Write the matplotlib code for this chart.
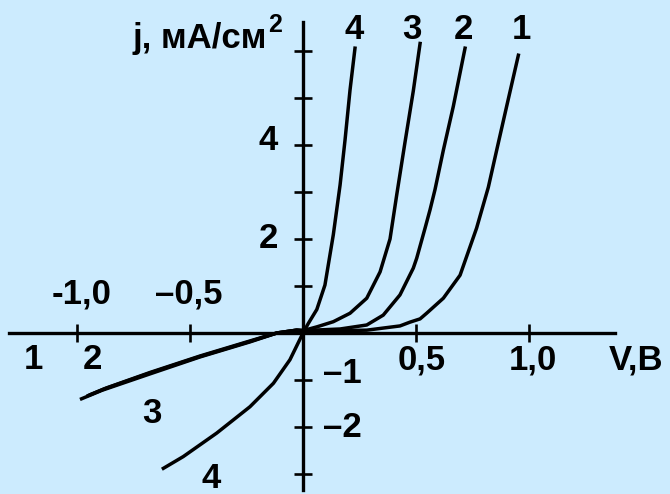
import matplotlib
matplotlib.use("Agg")
import matplotlib.pyplot as plt

plt.rcParams['font.family'] = ['Liberation Sans', 'DejaVu Sans']

# reverse branches of curves 1-3 (V, j) - they nearly coincide
v_rev_1 = [-0.98, -0.89, -0.677, -0.456, -0.235, -0.116, -0.028, 0.0]
j_rev_1 = [-1.40, -1.22, -0.87, -0.51, -0.19, 0.0, 0.06, 0.05]
v_rev_2 = [-0.95, -0.88, -0.677, -0.456, -0.235, -0.116, -0.028, 0.0]
j_rev_2 = [-1.33, -1.19, -0.85, -0.50, -0.18, 0.0, 0.06, 0.05]
v_rev_3 = [-0.94, -0.87, -0.677, -0.456, -0.235, -0.116, -0.028, 0.0]
j_rev_3 = [-1.31, -1.17, -0.84, -0.49, -0.17, 0.0, 0.06, 0.05]

# forward branches
v_fwd_1 = [0.0, 0.15, 0.282, 0.429, 0.473, 0.518, 0.547, 0.621, 0.695, 0.768, 0.82, 0.857, 0.901, 0.953]
j_fwd_1 = [0.05, 0.05, 0.06, 0.15, 0.23, 0.30, 0.42, 0.74, 1.23, 2.23, 3.10, 3.89, 4.82, 5.91]
v_fwd_2 = [0.0, 0.164, 0.282, 0.355, 0.429, 0.488, 0.503, 0.540, 0.562, 0.584, 0.621, 0.665, 0.717]
j_fwd_2 = [0.05, 0.085, 0.17, 0.38, 0.81, 1.38, 1.59, 2.23, 2.62, 3.05, 3.89, 4.82, 6.06]
v_fwd_3 = [0.0, 0.061, 0.134, 0.208, 0.282, 0.341, 0.385, 0.415, 0.451, 0.488, 0.518]
j_fwd_3 = [0.05, 0.13, 0.24, 0.42, 0.74, 1.30, 2.00, 2.95, 4.05, 5.15, 6.16]

# curve 4 over the whole range
v_4 = [-0.618, -0.53, -0.382, -0.235, -0.131, -0.058, 0.0, 0.023, 0.061, 0.097,
       0.134, 0.164, 0.186, 0.208, 0.230]
j_4 = [-2.88, -2.63, -2.13, -1.57, -1.07, -0.57, 0.0, 0.20, 0.50, 1.02,
       2.09, 3.15, 4.11, 5.17, 6.06]

x_ticks = [-1.0, -0.5, 0.5, 1.0]
y_ticks = [-3, -2, -1, 1, 2, 3, 4, 5, 6]

bg = '#ccebfe'
fig = plt.figure(figsize=(6.7, 4.94), dpi=100, facecolor=bg)
ax = fig.add_axes([0, 0, 1, 1], facecolor=bg)
ax.set_xlim(-1.341, 1.624)
ax.set_ylim(-3.426, 7.085)

lw = 2.5
for v, j in [(v_rev_1, j_rev_1), (v_rev_2, j_rev_2), (v_rev_3, j_rev_3),
             (v_fwd_1, j_fwd_1), (v_fwd_2, j_fwd_2), (v_fwd_3, j_fwd_3),
             (v_4, j_4)]:
    ax.plot(v, j, color='black', lw=lw, solid_joinstyle='round')

# axes crossing at the origin
for side in ['top', 'right']:
    ax.spines[side].set_visible(False)
ax.spines['bottom'].set_position(('data', 0))
ax.spines['left'].set_position(('data', 0))
ax.spines['bottom'].set_bounds(-1.30, 1.38)
ax.spines['left'].set_bounds(-3.34, 6.62)
ax.spines['bottom'].set_linewidth(2.4)
ax.spines['left'].set_linewidth(2.4)

ax.set_xticks(x_ticks)
ax.set_yticks(y_ticks)
ax.tick_params(direction='inout', length=13, width=1.9,
               labelbottom=False, labelleft=False)

font = dict(fontsize=25, fontweight='bold', color='black')

# curve numbers at the top
for lab, x in [('4', 0.226), ('3', 0.482), ('2', 0.712), ('1', 0.965)]:
    ax.text(x, 6.45, lab, ha='center', va='center', **font)

# curve numbers on the reverse side
ax.text(-1.195, -0.57, '1', ha='center', va='center', **font)
ax.text(-0.934, -0.57, '2', ha='center', va='center', **font)
ax.text(-0.668, -1.72, '3', ha='center', va='center', **font)
ax.text(-0.407, -3.09, '4', ha='center', va='center', **font)

# tick labels
ax.text(-0.978, 0.83, '-1,0', ha='center', va='center', **font)
ax.text(-0.504, 0.83, '\u20130,5', ha='center', va='center', **font)
ax.text(0.527, -0.57, '0,5', ha='center', va='center', **font)
ax.text(1.018, -0.57, '1,0', ha='center', va='center', **font)
ax.text(-0.11, 4.1, '4', ha='right', va='center', **font)
ax.text(-0.11, 2.0, '2', ha='right', va='center', **font)
ax.text(0.088, -0.87, '\u20131', ha='left', va='center', **font)
ax.text(0.088, -2.02, '\u20132', ha='left', va='center', **font)

# axis titles
ax.text(1.473, -0.57, 'V,B', ha='center', va='center', **font)
ax.text(-0.16, 6.06, 'j, мА/см', ha='right', va='baseline', **font)
ax.text(-0.155, 6.55, '2', ha='left', va='center', fontsize=18,
        fontweight='bold', color='black')

fig.savefig('out.png', dpi=100, facecolor=bg)
